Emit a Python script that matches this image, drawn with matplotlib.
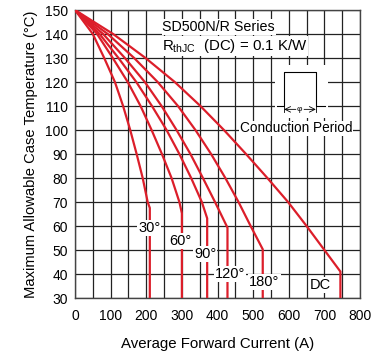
import matplotlib
matplotlib.use("Agg")
import matplotlib.pyplot as plt
from matplotlib.patches import Rectangle

plt.rcParams['font.family'] = ['Liberation Sans', 'DejaVu Sans']
plt.rcParams['mathtext.fontset'] = 'custom'
plt.rcParams['mathtext.rm'] = 'Liberation Sans'
plt.rcParams['mathtext.it'] = 'Liberation Sans'

# ---- data ----
t30 = [150, 140, 130, 120, 110, 100, 90, 80, 70, 67.5, 30]
i30 = [0, 50, 82, 112, 135, 155, 173, 190, 204, 210, 210]

t60 = [150, 140, 130, 120, 110, 100, 90, 80, 70, 65.3, 30]
i60 = [0, 62, 106, 148, 184, 215, 244, 271, 293, 300, 300]

t90 = [150, 140, 130, 120, 110, 100, 90, 80, 70, 63.2, 30]
i90 = [0, 69, 122, 172, 216, 257, 293, 326, 356, 371, 371]

t120 = [150, 140, 130, 120, 110, 100, 90, 80, 70, 59.3, 30]
i120 = [0, 79, 140, 196, 243, 285, 324, 359, 393, 428, 428]

t180 = [150, 140, 130, 120, 110, 100, 90, 80, 70, 60, 50.3, 30]
i180 = [0, 92, 166, 232, 289, 338, 382, 422, 459, 493, 527, 527]

tdc = [150, 140, 130, 120, 110, 100, 90, 80, 70, 60, 50, 41, 30]
idc = [0, 107, 198, 280, 352, 418, 480, 540, 598, 650, 700, 745, 745]

curve_labels = ["30°", "60°", "90°", "120°", "180°", "DC"]
label_x = [208, 295, 365, 436, 532, 688]
label_y = [59.2, 53.9, 48.3, 40.0, 36.8, 35.4]

x_ticks = [0, 100, 200, 300, 400, 500, 600, 700, 800]
y_ticks = [30, 40, 50, 60, 70, 80, 90, 100, 110, 120, 130, 140, 150]

red = '#dc1e2a'

fig = plt.figure(figsize=(3.71, 3.55), dpi=100)
ax = fig.add_axes([75/371, 1-298/355, 285/371, 288/355])

ax.set_xlim(0, 800)
ax.set_ylim(30, 150)
ax.set_xticks(x_ticks)
ax.set_yticks(y_ticks)
ax.set_xticks(range(50, 800, 100), minor=True)
ax.grid(True, which='both', color='#222222', linewidth=0.9)
ax.set_axisbelow(True)
ax.tick_params(which='both', length=0, labelsize=10, colors='black')
ax.tick_params(axis='x', pad=8)
ax.tick_params(axis='y', pad=5)
for s in ax.spines.values():
    s.set_color('#444444')
    s.set_linewidth(1.0)

for ii, tt in [(i30, t30), (i60, t60), (i90, t90), (i120, t120), (i180, t180), (idc, tdc)]:
    ax.plot(ii, tt, color=red, linewidth=1.6, solid_joinstyle='miter', zorder=3)

bbox = dict(facecolor='white', edgecolor='none', pad=0.6)
for lab, x, y in zip(curve_labels, label_x, label_y):
    ax.text(x, y, lab, ha='center', va='center', fontsize=10.5, bbox=bbox, zorder=4)

ax.text(245, 142.9, "SD500N/R Series", ha='left', va='center', fontsize=10.3,
        bbox=dict(facecolor='white', edgecolor='none', pad=0.5), zorder=4)
ax.text(245, 135.0, r"R$_{\rm thJC}$  (DC) = 0.1 K/W", ha='left', va='center', fontsize=10.8,
        bbox=dict(facecolor='white', edgecolor='none', pad=0.5), zorder=4)

# conduction period inset
ax.add_patch(Rectangle((560, 105), 150, 22, facecolor='white', edgecolor='none', zorder=2))
ax.plot([566, 587, 587, 676, 676, 702], [110, 110, 124, 124, 110, 110], color='black', lw=0.8, zorder=3)
ax.plot([587, 587], [107.3, 110], color='black', lw=0.6, zorder=3)
ax.plot([676, 676], [107.3, 110], color='black', lw=0.6, zorder=3)
ax.annotate('', xy=(587, 108.6), xytext=(620, 108.6),
            arrowprops=dict(arrowstyle='->', lw=0.6, color='black', shrinkA=0, shrinkB=0), zorder=3)
ax.annotate('', xy=(676, 108.6), xytext=(643, 108.6),
            arrowprops=dict(arrowstyle='->', lw=0.6, color='black', shrinkA=0, shrinkB=0), zorder=3)
ax.text(631, 108.6, "φ", ha='center', va='center', fontsize=6, zorder=3)
ax.text(463, 100.7, "Conduction Period", ha='left', va='center', fontsize=9.8,
        bbox=dict(facecolor='white', edgecolor='none', pad=0.5), zorder=4)

ax.set_xlabel("Average Forward Current (A)", fontsize=10.8, labelpad=10)
ax.set_ylabel("Maximum Allowable Case Temperature (°C)", fontsize=10.6, labelpad=5)

fig.savefig("out.png", dpi=100)
